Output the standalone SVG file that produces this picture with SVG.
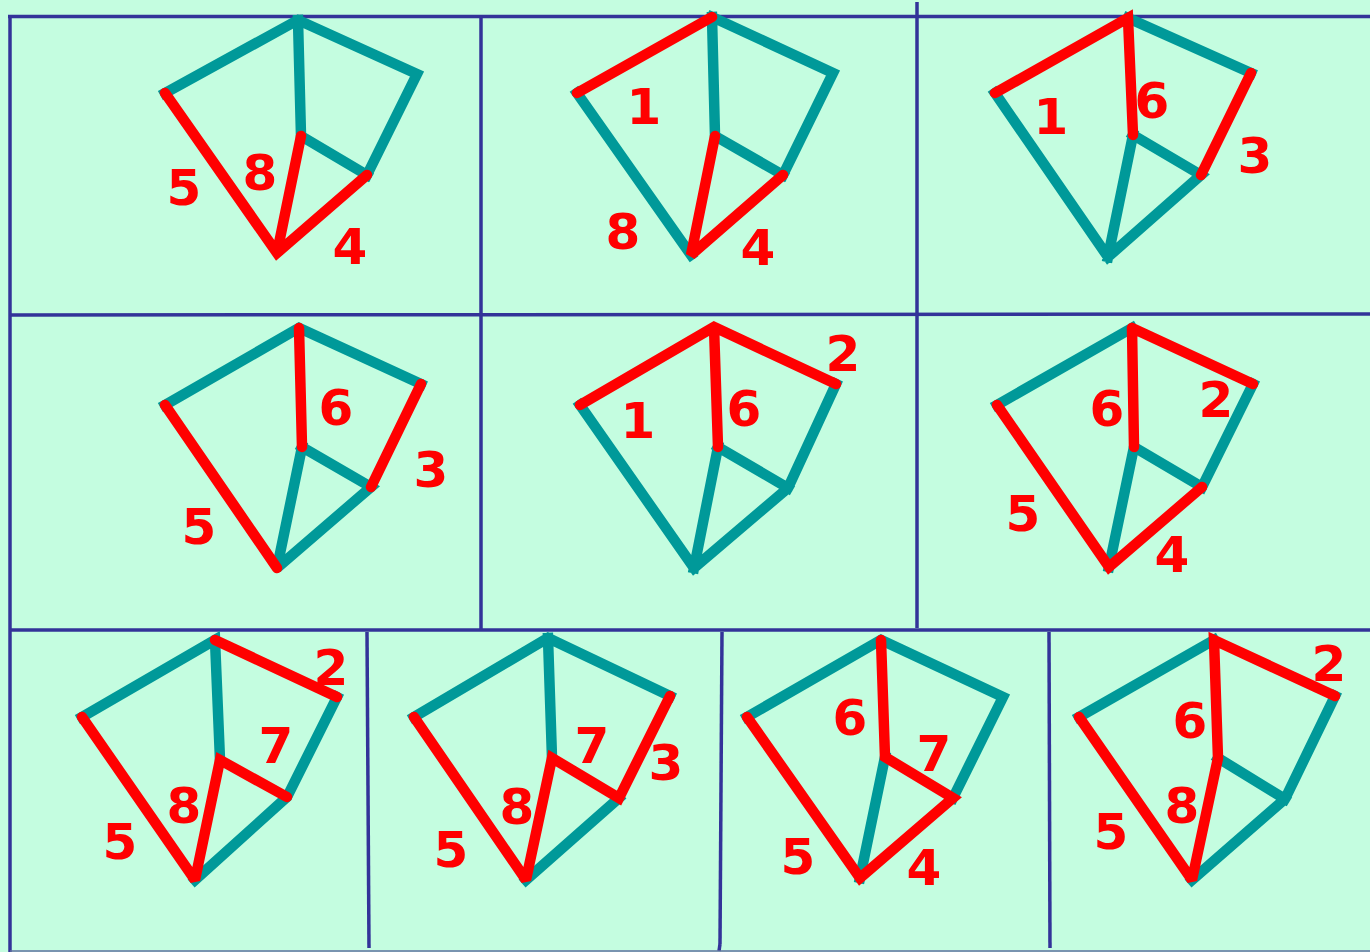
<svg xmlns="http://www.w3.org/2000/svg" width="1370" height="952" viewBox="0 0 1370 952">
<style>
.bg{fill:#c4fde0}
.grid{stroke:#333399;stroke-width:3.5;fill:none}
.t{stroke:#009999;stroke-width:10.5;stroke-linecap:square;stroke-linejoin:miter;stroke-miterlimit:2;fill:none}
.r{stroke:#ff0000;stroke-width:10.5;stroke-linecap:round;stroke-linejoin:miter;stroke-miterlimit:2;fill:none}
.n{font-family:"DejaVu Sans","Verdana",sans-serif;font-weight:bold;font-size:50px;fill:#ff0000;text-anchor:middle}
</style>
<rect class="bg" x="0" y="0" width="1370" height="952"/>
<g id="grid">
<line class="grid" x1="8" y1="16.5" x2="1370" y2="16.5"/>
<line class="grid" x1="10" y1="16" x2="10" y2="952"/>
<line class="grid" x1="10" y1="315" x2="1370" y2="314"/>
<line class="grid" x1="10" y1="630" x2="1370" y2="630"/>
<line class="grid" x1="481" y1="16" x2="481" y2="630"/>
<line class="grid" x1="917" y1="2" x2="917" y2="628"/>
<line class="grid" x1="367" y1="632" x2="369" y2="948"/>
<line class="grid" x1="722" y1="632" x2="720" y2="944"/>
<line class="grid" x1="720" y1="944" x2="719" y2="951"/>
<line class="grid" x1="1049" y1="632" x2="1050" y2="948"/>
<line x1="10" y1="951" x2="1370" y2="951" stroke="#6070a0" stroke-width="1.5"/>
</g>
<g id="panel1">
<path class="t" d="M165,93 L298,20 L417,74 L367,175 M298,20 L301,136 L367,175"/>
<path class="r" d="M165,93 L277,253 L367,175 M301,136 L277,253"/>
<text class="n" x="184" y="205">5</text>
<text class="n" x="260" y="190">8</text>
<text class="n" x="350" y="264">4</text>
</g>
<g id="panel2">
<path class="t" d="M712,17 L833,73 L783,175 M712,17 L715,136 L783,175 M577,93 L691,255"/>
<path class="r" d="M577,93 L712,17 M715,136 L691,255 L783,175"/>
<text class="n" x="644" y="124">1</text>
<text class="n" x="623" y="249">8</text>
<text class="n" x="758" y="265">4</text>
</g>
<g id="panel3">
<path class="t" d="M1128,18 L1251,73 M1133,135 L1201,175 L1108,257 L995,93 M1133,135 L1108,257"/>
<path class="r" d="M995,93 L1128,18 L1133,135 M1251,73 L1201,175"/>
<text class="n" x="1051" y="134">1</text>
<text class="n" x="1152" y="118">6</text>
<text class="n" x="1255" y="173">3</text>
</g>
<g id="panel4">
<path class="t" d="M165,405 L299,328 L421,384 M302,447 L371,487 L277,568 L302,447"/>
<path class="r" d="M299,328 L302,447 M421,384 L371,487 M165,405 L277,568"/>
<text class="n" x="336" y="425">6</text>
<text class="n" x="431" y="487">3</text>
<text class="n" x="199" y="544">5</text>
</g>
<g id="panel5">
<path class="t" d="M836,384 L788,488 L694,568 L580,405 M718,447 L788,488 M718,447 L694,568"/>
<path class="r" d="M580,405 L714,327 L836,384 M714,327 L718,447"/>
<text class="n" x="638" y="438">1</text>
<text class="n" x="744" y="426">6</text>
<text class="n" x="843" y="371">2</text>
</g>
<g id="panel6">
<path class="t" d="M997,405 L1132,328 M1253,384 L1202,487 L1134,447 L1109,567"/>
<path class="r" d="M1132,328 L1134,447 M1132,328 L1253,384 M997,405 L1109,567 L1202,487"/>
<text class="n" x="1107" y="426">6</text>
<text class="n" x="1216" y="417">2</text>
<text class="n" x="1023" y="531">5</text>
<text class="n" x="1172" y="572">4</text>
</g>
<g id="panel7">
<path class="t" d="M82,717 L215,640 L220,760 M337,697 L287,797 L195,880"/>
<path class="r" d="M215,640 L337,697 M82,717 L195,880 L220,760 L287,797"/>
<text class="n" x="331" y="685">2</text>
<text class="n" x="276" y="763">7</text>
<text class="n" x="184" y="823">8</text>
<text class="n" x="120" y="859">5</text>
</g>
<g id="panel8">
<path class="t" d="M414,717 L548,638 L670,696 M548,638 L552,758 M619,798 L526,880"/>
<path class="r" d="M670,696 L619,798 L552,758 L526,880 L414,717"/>
<text class="n" x="592" y="763">7</text>
<text class="n" x="666" y="780">3</text>
<text class="n" x="517" y="824">8</text>
<text class="n" x="451" y="867">5</text>
</g>
<g id="panel9">
<path class="t" d="M747,717 L881,640 L1003,697 L953,798 M885,757 L860,878"/>
<path class="r" d="M881,640 L885,757 L953,798 L860,878 L747,717"/>
<text class="n" x="850" y="735">6</text>
<text class="n" x="934" y="771">7</text>
<text class="n" x="798" y="874">5</text>
<text class="n" x="924" y="885">4</text>
</g>
<g id="panel10">
<path class="t" d="M1079,717 L1214,640 M1335,696 L1285,799 L1192,880 M1218,758 L1285,799"/>
<path class="r" d="M1335,696 L1214,640 L1218,758 L1192,880 L1079,717"/>
<text class="n" x="1329" y="681">2</text>
<text class="n" x="1190" y="738">6</text>
<text class="n" x="1182" y="823">8</text>
<text class="n" x="1111" y="849">5</text>
</g>
</svg>
